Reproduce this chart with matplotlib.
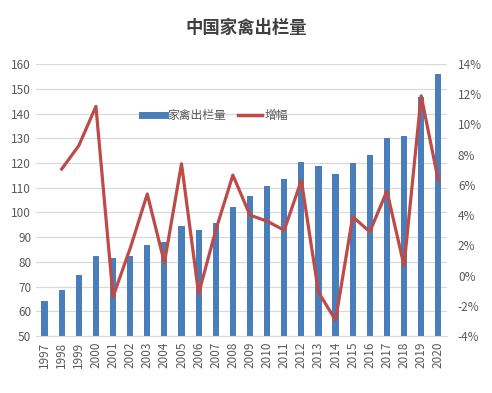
import matplotlib
matplotlib.use("Agg")
import matplotlib.pyplot as plt
import numpy as np
from matplotlib.lines import Line2D

plt.rcParams['font.family'] = ['Noto Sans CJK SC', 'DejaVu Sans']

years = [str(y) for y in range(1997, 2021)]
output = [64.2, 68.8, 74.5, 82.5, 81.5, 82.5, 87.0, 88.0, 94.4, 92.8, 95.8, 102.3,
          106.5, 110.5, 113.4, 120.2, 118.9, 115.4, 119.8, 123.4, 130.2, 130.9, 146.8, 155.8]
growth_years = years[1:]
growth = [7.05, 8.6, 11.2, -1.4, 1.8, 5.4, 0.85, 7.4, -1.2, 3.0, 6.65,
          4.0, 3.6, 3.0, 6.3, -1.1, -2.95, 3.9, 2.9, 5.6, 0.65, 11.9, 6.3]

bar_color = '#4A7EBB'
line_color = '#BE4B48'
tick_color = '#595959'

fig = plt.figure(figsize=(4.92, 3.93), dpi=100)
ax = fig.add_axes([0.0732, 0.145, 0.835, 0.692])
x = np.arange(len(years))
ax.bar(x, output, width=0.36, color=bar_color, zorder=2)
ax.set_ylim(50, 160)
ax.set_yticks(range(50, 161, 10))
ax.set_xlim(-0.5, len(years) - 0.5)
ax.set_xticks(x)
ax.set_xticklabels(years, rotation=90, fontsize=8.5, color=tick_color)
ax.grid(axis='y', color='#D9D9D9', linewidth=0.9, zorder=0)
ax.tick_params(axis='both', length=0, labelsize=8.5, colors=tick_color)
ax.tick_params(axis='x', pad=4)
for s in ax.spines.values():
    s.set_visible(False)
ax.spines['bottom'].set_visible(True)
ax.spines['bottom'].set_color('#D9D9D9')

ax2 = ax.twinx()
gx = np.arange(1, len(years))
ax2.plot(gx, growth, color=line_color, linewidth=2.3, zorder=3)
ax2.set_ylim(-4, 14)
ax2.set_yticks(range(-4, 15, 2))
ax2.set_yticklabels([f'{v}%' for v in range(-4, 15, 2)])
ax2.tick_params(axis='y', length=0, labelsize=8.5, colors=tick_color, pad=8)
for s in ax2.spines.values():
    s.set_visible(False)

handles = [Line2D([0], [0], color=bar_color, linewidth=5),
           Line2D([0], [0], color=line_color, linewidth=2.5)]
ax2.legend(handles, ['家禽出栏量', '增幅'], loc='center left', bbox_to_anchor=(0.24, 0.81),
           ncol=2, frameon=False, fontsize=8.5, handlelength=2.0, columnspacing=1.0,
           handletextpad=0.2, labelcolor=tick_color, borderpad=0.1)

fig.text(0.5, 0.93, '中国家禽出栏量', ha='center', va='center', fontsize=12.5,
         fontweight='bold', color='#404040')

fig.savefig('out.png', dpi=100)
